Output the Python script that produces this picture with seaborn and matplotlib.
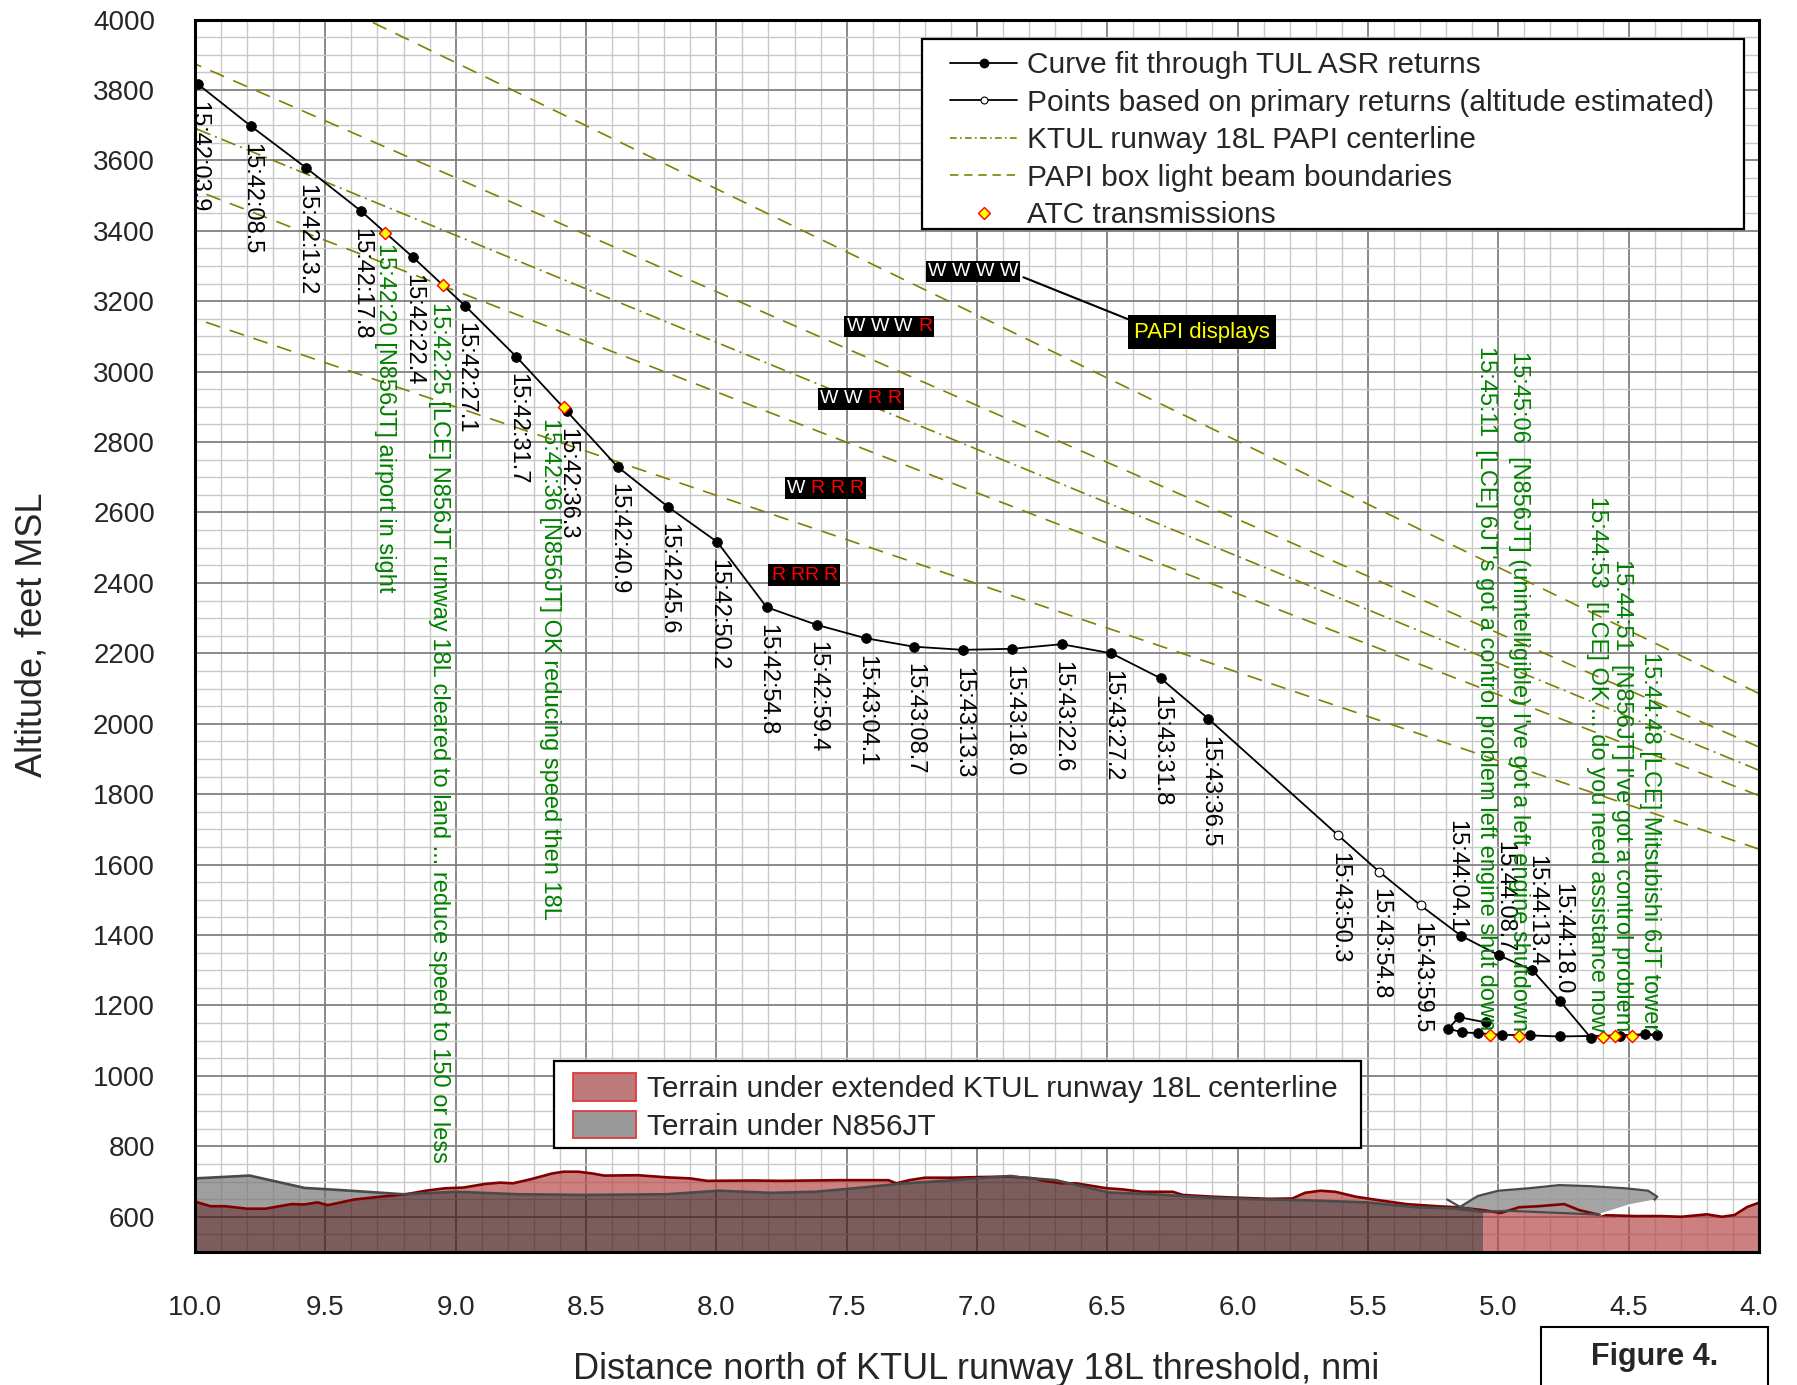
import numpy as np
import matplotlib
matplotlib.use("Agg")
import matplotlib.pyplot as plt
from matplotlib.lines import Line2D
from matplotlib.patches import Patch, Rectangle
from matplotlib.ticker import MultipleLocator, FormatStrFormatter
import seaborn as sns

# ---------------- data ----------------
# Track of N856JT: distance north of threshold (nmi) and altitude (ft MSL)
track_x = [9.99, 9.785, 9.574, 9.363, 9.164, 8.964, 8.768, 8.574, 8.379, 8.187,
           7.996, 7.807, 7.615, 7.427, 7.243, 7.055, 6.864, 6.675, 6.484, 6.295,
           6.112, 5.614, 5.457, 5.298, 5.143, 4.996, 4.869, 4.764, 4.646, 4.534,
           4.438, 4.393, 4.764, 4.879, 4.985, 5.077, 5.138, 5.192, 5.151, 5.049]
track_y = [3817, 3697, 3579, 3456, 3325, 3187, 3043, 2888, 2730, 2617,
           2516, 2331, 2281, 2243, 2219, 2210, 2213, 2226, 2200, 2129,
           2014, 1683, 1580, 1484, 1398, 1342, 1300, 1213, 1109, 1114,
           1119, 1117, 1112, 1115, 1117, 1121, 1124, 1134, 1167, 1152]
# points whose altitude is estimated from primary returns
primary_idx = [21, 22, 23]
track_times = ["15:42:03.9", "15:42:08.5", "15:42:13.2", "15:42:17.8", "15:42:22.4",
               "15:42:27.1", "15:42:31.7", "15:42:36.3", "15:42:40.9", "15:42:45.6",
               "15:42:50.2", "15:42:54.8", "15:42:59.4", "15:43:04.1", "15:43:08.7",
               "15:43:13.3", "15:43:18.0", "15:43:22.6", "15:43:27.2", "15:43:31.8",
               "15:43:36.5", "15:43:50.3", "15:43:54.8", "15:43:59.5", "15:44:04.1",
               "15:44:08.7", "15:44:13.4", "15:44:18.0"]

# ATC transmissions
atc_x = [9.270, 9.049, 8.583, 4.488, 4.553, 4.600, 4.919, 5.032]
atc_y = [3393, 3246, 2899, 1112, 1112, 1110, 1112, 1115]
atc_msg = ["15:42:20 [N856JT] airport in sight",
           "15:42:25 [LCE] N856JT runway 18L cleared to land ... reduce speed to 150 or less",
           "15:42:36 [N856JT] OK reducing speed then 18L",
           "15:44:48 [LCE] Mitsubishi 6JT tower",
           "15:44:51  [N856JT] I've got a control problem",
           "15:44:53  [LCE] OK ... do you need assistance now",
           "15:45:06  [N856JT] (unintelligible) I've got a left engine shutdown",
           "15:45:11  [LCE] 6JT's got a control problem left engine shut down"]

# PAPI light beams: altitude at 10 nmi and at 4 nmi
beam_alt_10 = [4236, 3874, 3691, 3516, 3151]
beam_alt_4 = [2086, 1934, 1868, 1796, 1644]
beam_is_centerline = [False, False, True, False, False]

# PAPI indications seen within each beam sector
papi_displays = ["W W W W", "W W W R", "W W R R", "W R R R", "R RR R"]
papi_disp_x = [7.015, 7.336, 7.446, 7.582, 7.662]
papi_disp_y = [3284, 3128, 2923, 2669, 2422]

# Terrain under extended runway 18L centerline
terr_cl_x = [10.0, 9.94, 9.885, 9.80, 9.73, 9.63, 9.58, 9.53, 9.49, 9.39, 9.29, 9.19,
             9.115, 9.04, 8.97, 8.89, 8.83, 8.78, 8.71, 8.63, 8.586, 8.53, 8.476, 8.43,
             8.30, 8.19, 8.10, 8.035, 7.86, 7.75, 7.64, 7.53, 7.34, 7.31, 7.26, 7.20,
             7.09, 6.98, 6.87, 6.78, 6.756, 6.678, 6.62, 6.502, 6.444, 6.366, 6.249,
             6.21, 6.093, 5.995, 5.878, 5.79, 5.742, 5.683, 5.625, 5.547, 5.449, 5.352,
             5.235, 5.157, 5.06, 4.99, 4.92, 4.845, 4.747, 4.69, 4.61, 4.474, 4.376,
             4.298, 4.2, 4.142, 4.094, 4.045, 4.0]
terr_cl_y = [643, 630, 630, 623, 623, 636, 635, 641, 633, 649, 657, 664,
             674, 681, 683, 693, 697, 695, 707, 723, 728, 728, 723, 717,
             718, 712, 709, 702, 703, 702, 703, 704, 704, 695, 704, 711,
             711, 713, 714, 709, 704, 695, 695, 681, 678, 671, 671,
             662, 657, 654, 651, 652, 668, 674, 671, 657, 646, 636,
             630, 627, 619, 611, 627, 630, 636, 619, 605, 602, 602,
             600, 607, 600, 605, 628, 640]

# Terrain under N856JT (inbound leg)
terr_ac_x = [10.0, 9.79, 9.58, 9.445, 9.20, 9.00, 8.76, 8.50, 8.19, 7.99, 7.79, 7.62,
             7.44, 7.31, 7.09, 6.87, 6.834, 6.697, 6.6, 6.493, 6.327, 6.132, 5.937,
             5.742, 5.508, 5.313, 5.176, 5.059]
terr_ac_y = [709, 717, 682, 676, 664, 671, 664, 662, 664, 674, 668, 671,
             683, 693, 704, 716, 712, 704, 687, 669, 664, 655, 650,
             647, 641, 627, 624, 614]

# Terrain under N856JT while manoeuvring near the end of the track
terr_loop_x = [5.147, 5.079, 5.0, 4.884, 4.766, 4.65, 4.513, 4.425, 4.39, 4.406,
               4.494, 4.61, 4.766, 4.962, 5.059, 5.147]
terr_loop_y = [628, 659, 674, 681, 690, 687, 681, 674, 657, 645,
               633, 606, 611, 617, 614, 628]
terr_spur_x = [5.196, 5.147]
terr_spur_y = [649, 628]

# ---------------- style ----------------
sns.set_style("white")
plt.rcParams["font.family"] = ["Liberation Sans", "DejaVu Sans"]

OLIVE = "#808000"
GREEN = "#008000"
BASE = 500

fig = plt.figure(figsize=(17.97, 13.85), dpi=100)
ax = fig.add_axes([0.10851, 0.09603, 0.87034, 0.88989])
ax.set_xlim(10, 4)
ax.set_ylim(500, 4000)

# grid
ax.xaxis.set_major_locator(MultipleLocator(0.5))
ax.xaxis.set_minor_locator(MultipleLocator(0.1))
ax.yaxis.set_major_locator(MultipleLocator(200))
ax.yaxis.set_minor_locator(MultipleLocator(50))
ax.xaxis.set_major_formatter(FormatStrFormatter("%.1f"))
ax.yaxis.set_major_formatter(FormatStrFormatter("%d"))
ax.grid(which="minor", color="#c8c8c8", lw=1.0, zorder=0)
ax.grid(which="major", color="#808080", lw=1.3, zorder=0)
ax.set_axisbelow(True)

ax.tick_params(axis="both", which="major", direction="out", length=18, width=2.2,
               labelsize=20, color="black")
ax.tick_params(axis="both", which="minor", direction="out", length=9.4, width=2.0,
               color="black")
ax.tick_params(axis="x", which="major", pad=13)
ax.tick_params(axis="y", which="major", pad=10.8)
for sp in ax.spines.values():
    sp.set_linewidth(2.2)
    sp.set_color("black")

# ---------------- terrain ----------------
xr = np.array(terr_cl_x); yr = np.array(terr_cl_y)
xg = np.array(terr_ac_x); yg = np.array(terr_ac_y)
split = xg[-1]
xc = np.unique(np.concatenate([xr[xr >= split], xg]))
rc = np.interp(xc, xr[::-1], yr[::-1])
gc = np.interp(xc, xg[::-1], yg[::-1])
low = np.minimum(rc, gc)
A = 0.7
ax.fill_between(xc, BASE, low, color="#451818", alpha=A, lw=0, zorder=1)
ax.fill_between(xc, low, rc, color="#b84a4a", alpha=A, lw=0, zorder=1)
ax.fill_between(xc, low, gc, color="#777777", alpha=A, lw=0, zorder=1)
xt = np.unique(np.concatenate([xr[xr <= split], [split]]))
yt = np.interp(xt, xr[::-1], yr[::-1])
ax.fill_between(xt, BASE, yt, color="#b84a4a", alpha=A, lw=0, zorder=1)

ax.fill(terr_loop_x, terr_loop_y, color="#9a9a9a", alpha=0.9, lw=0, zorder=1.5)
sns.lineplot(x=terr_cl_x, y=terr_cl_y, sort=False, estimator=None, color="#800000",
             lw=1.9, ax=ax, zorder=2)
sns.lineplot(x=terr_ac_x, y=terr_ac_y, sort=False, estimator=None, color="#4a4a4a",
             lw=1.9, ax=ax, zorder=2)
ax.plot(terr_loop_x[:10], terr_loop_y[:10], color="#4a4a4a", lw=1.6, zorder=2)
ax.plot(terr_loop_x[9:12], terr_loop_y[9:12], color="white", lw=1.6, zorder=2)
ax.plot(terr_loop_x[11:], terr_loop_y[11:], color="#4a4a4a", lw=1.6, zorder=2)
ax.plot(terr_spur_x, terr_spur_y, color="#4a4a4a", lw=1.6, zorder=2)

# ---------------- PAPI beams ----------------
for a10, a4, centre in zip(beam_alt_10, beam_alt_4, beam_is_centerline):
    sns.lineplot(x=[10, 4], y=[a10, a4], color=OLIVE, lw=1.2, ax=ax, zorder=2.5)
    ln = ax.lines[-1]
    ln.set_linestyle((0, (9, 3, 1.2, 3)) if centre else (0, (9, 6)))

# ---------------- track ----------------
sns.lineplot(x=track_x, y=track_y, sort=False, estimator=None, color="black",
             lw=1.3, ax=ax, zorder=3)
asr_idx = [i for i in range(len(track_x)) if i not in primary_idx]
sns.scatterplot(x=[track_x[i] for i in asr_idx], y=[track_y[i] for i in asr_idx],
                marker="o", s=50, color="black", edgecolor="black", linewidth=0.5,
                ax=ax, zorder=4, legend=False)
sns.scatterplot(x=[track_x[i] for i in primary_idx], y=[track_y[i] for i in primary_idx],
                marker="o", s=40, color="white", edgecolor="black", linewidth=0.8,
                ax=ax, zorder=4, legend=False)
sns.scatterplot(x=atc_x, y=atc_y, marker="D", s=38, color="yellow", edgecolor="red",
                linewidth=1.0, ax=ax, zorder=5, legend=False)

# time labels for each radar return
above = {24: (-3.5, 3), 25: (3.5, 2.5), 26: (3, 2.5), 27: (1.5, 4.5)}
for i, t in enumerate(track_times):
    if i in above:
        dx, dy = above[i]
        ax.annotate(t, (track_x[i], track_y[i]), xytext=(dx, dy), textcoords="offset points",
                    rotation=270, ha="center", va="bottom", fontsize=17, color="black",
                    zorder=6)
    else:
        ax.annotate(t, (track_x[i], track_y[i]), xytext=(0.5, -12), textcoords="offset points",
                    rotation=270, ha="center", va="top", fontsize=17, color="black",
                    zorder=6)

# ATC transmission texts
atc_offsets = [(0, -7, "top"), (-3, -12, "top"), (-10, -8, "top"),
               (13, 4, "bottom"), (5, 4, "bottom"), (-4, 4, "bottom"),
               (0, 4, "bottom"), (-3, 4, "bottom")]
for x, y, msg, (dx, dy, va) in zip(atc_x, atc_y, atc_msg, atc_offsets):
    ax.annotate(msg, (x, y), xytext=(dx, dy), textcoords="offset points", rotation=270,
                ha="center", va=va, fontsize=17, color=GREEN, zorder=6)

# PAPI indication boxes, each light drawn in its colour
adv = {"W": 0.944, "R": 0.722, " ": 0.278}
FS_BOX = 14
for s, bx, by in zip(papi_displays, papi_disp_x, papi_disp_y):
    ax.text(bx, by, s, fontsize=FS_BOX, color="black", ha="center", va="center",
            bbox=dict(boxstyle="square,pad=0.12", fc="black", ec="none"), zorder=7)
    total = sum(adv[c] for c in s)
    pos = -total / 2
    for c in s:
        w = adv[c]
        if c != " ":
            ax.annotate(c, (bx, by), xytext=((pos + w / 2) * FS_BOX, 0),
                        textcoords="offset points", ha="center", va="center",
                        fontsize=FS_BOX, color="white" if c == "W" else "red", zorder=8)
        pos += w

ax.annotate("PAPI displays", xy=(6.822, 3268), xytext=(6.136, 3112),
            textcoords="data", ha="center", va="center", fontsize=16, color="yellow",
            bbox=dict(boxstyle="square,pad=0.28", fc="black", ec="none"),
            arrowprops=dict(arrowstyle="-", color="black", lw=1.5, shrinkA=0, shrinkB=0,
                            relpos=(0, 1)), zorder=7)

# ---------------- legends ----------------
h1 = [Line2D([], [], color="black", lw=1.3, marker="o", ms=6, mfc="black", mec="black"),
      Line2D([], [], color="black", lw=1.3, marker="o", ms=5, mfc="white", mec="black", mew=0.8),
      Line2D([], [], color=OLIVE, lw=1.2, ls=(0, (4, 2, 1, 2))),
      Line2D([], [], color=OLIVE, lw=1.2, ls=(0, (5, 3.5))),
      Line2D([], [], ls="none", marker="D", ms=6, mfc="yellow", mec="red", mew=1.0)]
l1 = ["Curve fit through TUL ASR returns",
      "Points based on primary returns (altitude estimated)",
      "KTUL runway 18L PAPI centerline",
      "PAPI box light beam boundaries",
      "ATC transmissions"]
ax.add_patch(Rectangle((0.4646, 0.830), 0.9901 - 0.4646, 0.9839 - 0.830,
                       transform=ax.transAxes, fc="white", ec="black", lw=1.6, zorder=9))
leg1 = ax.legend(h1, l1, loc="upper left", bbox_to_anchor=(0.4830, 0.9743),
                 frameon=False, fontsize=21.5, handlelength=2.24, handletextpad=0.33,
                 labelspacing=0.32, borderpad=0, borderaxespad=0)
leg1.set_zorder(10)
ax.add_artist(leg1)

h2 = [Patch(facecolor="#bd7a7a", edgecolor="#e03a3a", lw=1.3),
      Patch(facecolor="#999999", edgecolor="#e03a3a", lw=1.3)]
l2 = ["Terrain under extended KTUL runway 18L centerline", "Terrain under N856JT"]
ax.add_patch(Rectangle((0.2297, 0.0842), 0.7458 - 0.2297, 0.1552 - 0.0842,
                       transform=ax.transAxes, fc="white", ec="black", lw=1.6, zorder=9))
leg2 = ax.legend(h2, l2, loc="upper left", bbox_to_anchor=(0.2417, 0.1449),
                 frameon=False, fontsize=21.5, handlelength=2.11, handleheight=1.05,
                 handletextpad=0.36, labelspacing=0.24, borderpad=0, borderaxespad=0)
leg2.set_zorder(10)

# ---------------- axis titles ----------------
fig.text(50 / 1797, 1 - 635 / 1385, "Altitude, feet MSL", rotation=90, ha="right",
         va="center", fontsize=26)
fig.text(976 / 1797, 1 - 1379 / 1385, "Distance north of KTUL runway 18L threshold, nmi",
         ha="center", va="baseline", fontsize=26)

fig.add_artist(Rectangle((1541.4 / 1797, -0.05), (1767.7 - 1541.4) / 1797,
                         0.05 + 1 - 1326.7 / 1385, transform=fig.transFigure,
                         fill=False, ec="black", lw=1.5))
fig.text(1654.5 / 1797, 1 - 1356.7 / 1385, "Figure 4.", ha="center", va="center",
         fontsize=22, fontweight="bold")

fig.savefig("out.png", dpi=100)
